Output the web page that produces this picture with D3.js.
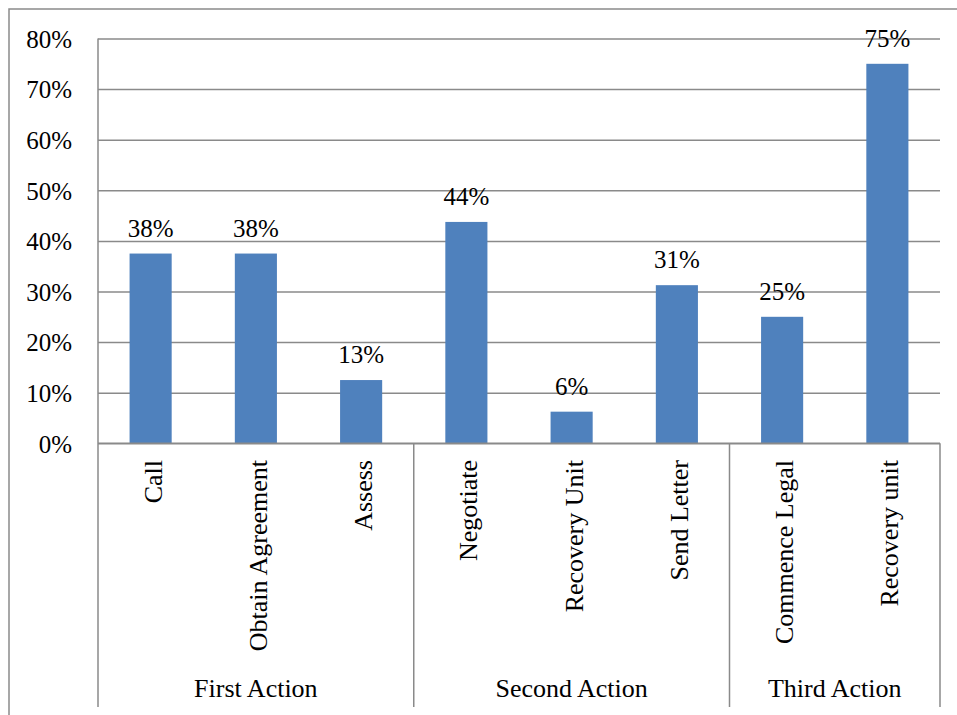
<!DOCTYPE html>
<html>
<head>
<meta charset="utf-8">
<script src="https://cdn.jsdelivr.net/npm/d3@7"></script>
<style>
  html, body { margin: 0; padding: 0; background: #fff; }
  svg { display: block; }
  text { font-family: "Liberation Serif", "Times New Roman", serif; fill: #000; }
</style>
</head>
<body>
<script>
const categories = ["Call", "Obtain Agreement", "Assess", "Negotiate", "Recovery Unit", "Send Letter", "Commence Legal", "Recovery unit"];
const groupOfCategory = ["First Action", "First Action", "First Action", "Second Action", "Second Action", "Second Action", "Third Action", "Third Action"];
const groups = ["First Action", "Second Action", "Third Action"];
const values = [0.375, 0.375, 0.125, 0.4375, 0.0625, 0.3125, 0.25, 0.75];
const valueLabels = ["38%", "38%", "13%", "44%", "6%", "31%", "25%", "75%"];
const yTicks = [0, 0.1, 0.2, 0.3, 0.4, 0.5, 0.6, 0.7, 0.8];

(function () {
const W = 957, H = 715;
const mLeft = 98, mRight = 940, mTop = 38.5, mBottom = 443.3, axisBottom = 707;
const grid = "#8a8a8a";

const svg = d3.select("body").append("svg").attr("width", W).attr("height", H);

// outer border
svg.append("rect").attr("x", 9).attr("y", 9).attr("width", W + 20).attr("height", H + 20)
  .attr("fill", "none").attr("stroke", grid).attr("stroke-width", 1.5);

const x = d3.scaleBand().domain(categories).range([mLeft, mRight]).padding(0);
const y = d3.scaleLinear().domain([0, 0.8]).range([mBottom, mTop]);

// y axis with gridlines
const yAxis = d3.axisLeft(y).tickValues(yTicks).tickFormat(d3.format(".0%"))
  .tickSize(-(mRight - mLeft)).tickPadding(26);
const gy = svg.append("g").attr("transform", `translate(${mLeft},0)`).call(yAxis);
gy.select(".domain").remove();
gy.selectAll(".tick line").attr("stroke", grid).attr("stroke-width", 1.5);
gy.selectAll(".tick text").attr("font-size", 25).attr("font-family", "Liberation Serif").attr("fill", "#000").attr("dy", "0.35em");

// bars
const barW = x.bandwidth() * 0.4;
svg.append("g").selectAll("rect").data(categories).join("rect")
  .attr("x", d => x(d) + (x.bandwidth() - barW) / 2)
  .attr("y", (d, i) => y(values[i]))
  .attr("width", barW)
  .attr("height", (d, i) => y(0) - y(values[i]))
  .attr("fill", "#4F81BD");

// value labels
svg.append("g").selectAll("text").data(categories).join("text")
  .attr("x", d => x(d) + x.bandwidth() / 2)
  .attr("y", (d, i) => y(values[i]) - 17)
  .attr("text-anchor", "middle")
  .attr("font-size", 25)
  .text((d, i) => valueLabels[i]);

// axis lines
svg.append("line").attr("x1", mLeft).attr("x2", mLeft).attr("y1", mTop).attr("y2", axisBottom)
  .attr("stroke", grid).attr("stroke-width", 1.5);
svg.append("line").attr("x1", mLeft).attr("x2", mRight).attr("y1", mBottom).attr("y2", mBottom)
  .attr("stroke", grid).attr("stroke-width", 1.5);

// group separators
const groupBounds = groups.map(g => {
  const idx = categories.map((c, i) => i).filter(i => groupOfCategory[i] === g);
  const x0 = x(categories[idx[0]]);
  const x1 = x(categories[idx[idx.length - 1]]) + x.bandwidth();
  return { g, x0, x1 };
});
groupBounds.forEach(b => {
  svg.append("line").attr("x1", b.x1).attr("x2", b.x1).attr("y1", mBottom).attr("y2", axisBottom)
    .attr("stroke", grid).attr("stroke-width", 1.5);
  svg.append("text").attr("x", (b.x0 + b.x1) / 2).attr("y", 697)
    .attr("text-anchor", "middle").attr("font-size", 26).text(b.g);
});

// category labels (rotated)
svg.append("g").selectAll("text").data(categories).join("text")
  .attr("transform", d => `translate(${x(d) + x.bandwidth() / 2 + 2},460) rotate(-90)`)
  .attr("text-anchor", "end")
  .attr("dy", "0.35em")
  .attr("font-size", 26)
  .text(d => d);
})();
</script>
</body>
</html>
